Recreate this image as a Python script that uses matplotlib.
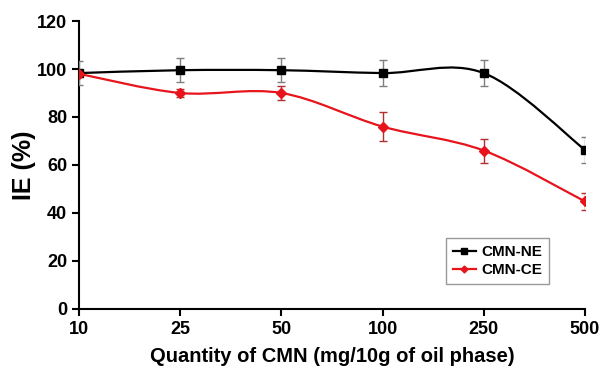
import numpy as np
import matplotlib
matplotlib.use('Agg')
import matplotlib.pyplot as plt
from matplotlib.path import Path
from matplotlib.patches import PathPatch

plt.rcParams['font.family'] = ['Liberation Sans', 'DejaVu Sans']
plt.rcParams['font.weight'] = 'bold'

categories = ['10', '25', '50', '100', '250', '500']
ne_vals = [98.3, 99.5, 99.5, 98.3, 98.3, 66.3]
ne_err = [5, 5, 5, 5.3, 5.3, 5.4]
ce_vals = [98.0, 90.0, 90.0, 76.0, 66.0, 44.8]
ce_err = [1.5, 1.5, 3.0, 6.0, 5.0, 3.5]


def smooth_path(xs, ys):
    # Excel-style smoothed line: cubic Bezier segments with Catmull-Rom tangents
    p = np.column_stack([xs, ys]).astype(float)
    ext = np.vstack([p[0], p, p[-1]])
    verts = [p[0]]
    codes = [Path.MOVETO]
    for i in range(len(p) - 1):
        c1 = ext[i + 1] + (ext[i + 2] - ext[i]) / 6
        c2 = ext[i + 2] - (ext[i + 3] - ext[i + 1]) / 6
        verts += [c1, c2, ext[i + 2]]
        codes += [Path.CURVE4] * 3
    return Path(verts, codes)


fig = plt.figure(figsize=(6.03, 3.69), dpi=100)
ax = fig.add_axes([0.131, 0.163, 0.839, 0.78])
x = np.arange(len(categories))

ax.add_patch(PathPatch(smooth_path(x, ne_vals), fill=False, edgecolor='black', lw=1.6, zorder=2))
ax.add_patch(PathPatch(smooth_path(x, ce_vals), fill=False, edgecolor='#e8141c', lw=1.6, zorder=2))

ax.errorbar(x, ne_vals, yerr=ne_err, fmt='none', ecolor='#7f7f7f', elinewidth=1, capsize=3, zorder=3)
ax.errorbar(x, ce_vals, yerr=ce_err, fmt='none', ecolor='#b03030', elinewidth=1, capsize=3, zorder=3)

ax.plot(x, ne_vals, 's', color='black', markersize=6, zorder=4)
ax.plot(x, ce_vals, 'D', color='#e8141c', markersize=5, zorder=4)

# legend handles
ax.plot([], [], '-s', color='black', markersize=4, lw=1.6, label='CMN-NE')
ax.plot([], [], '-D', color='#e8141c', markersize=3.5, lw=1.6, label='CMN-CE')
leg = ax.legend(loc='lower right', bbox_to_anchor=(0.945, 0.06), fontsize=11, frameon=True,
                fancybox=False, edgecolor='#808080', handlelength=1.5, handletextpad=0.4,
                borderpad=0.45, labelspacing=0.25)
leg.get_frame().set_linewidth(1)

ax.set_xlim(0, 5)
ax.set_ylim(0, 120)
ax.set_xticks(x)
ax.set_xticklabels(categories)
ax.set_yticks(np.arange(0, 121, 20))
ax.tick_params(axis='both', labelsize=13, width=1.5, length=5, direction='out')
for lab in ax.get_xticklabels() + ax.get_yticklabels():
    lab.set_fontweight('bold')
ax.spines['top'].set_visible(False)
ax.spines['right'].set_visible(False)
ax.spines['left'].set_linewidth(1.5)
ax.spines['bottom'].set_linewidth(1.5)
ax.spines['bottom'].set_clip_on(False)

ax.set_xlabel('Quantity of CMN (mg/10g of oil phase)', fontsize=14.5, fontweight='bold', labelpad=7)
ax.set_ylabel('IE (%)', fontsize=18, fontweight='bold', labelpad=1)

fig.savefig('out.png', dpi=100)
